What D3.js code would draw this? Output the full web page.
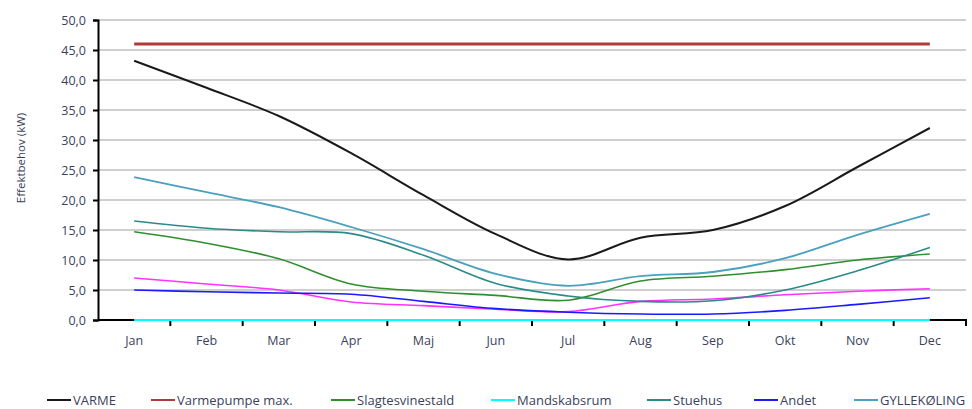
<!DOCTYPE html>
<html>
<head>
<meta charset="utf-8">
<script src="https://cdn.jsdelivr.net/npm/d3@7"></script>
<style>
body{margin:0;background:#fff}
text{font-family:"Open Sans","Liberation Sans",sans-serif;fill:#3b3f5c}
</style>
</head>
<body>
<svg id="chart" width="972" height="409"></svg>
<script>
var months = ["Jan","Feb","Mar","Apr","Maj","Jun","Jul","Aug","Sep","Okt","Nov","Dec"]
var yTicks = [0,5,10,15,20,25,30,35,40,45,50]

var varme = [43.2,38.7,34.0,27.8,20.8,14.3,10.1,13.7,15.0,19.0,25.5,32.0]
var varmepumpe = [46,46,46,46,46,46,46,46,46,46,46,46]
var slagtesvin = [14.7,12.8,10.2,6.0,4.8,4.1,3.3,6.5,7.3,8.4,10.0,11.0]
var mandskab = [0,0,0,0,0,0,0,0,0,0,0,0]
var stuehus = [16.5,15.3,14.7,14.4,10.8,6.1,4.0,3.1,3.2,5.0,8.2,12.1]
var andet = [5.0,4.7,4.5,4.3,3.1,1.9,1.3,1.0,1.0,1.6,2.6,3.7]
var gylle = [23.8,21.3,18.8,15.5,11.8,7.7,5.7,7.3,8.0,10.3,14.2,17.7]
var ukendt = [7.0,6.0,5.0,3.0,2.4,1.8,1.4,3.1,3.5,4.2,4.8,5.2]

var series = [
	["VARME",varme,"#1a1a1a",2,true],
	["Varmepumpe max.",varmepumpe,"#b03a3a",3,true],
	["Slagtesvinestald",slagtesvin,"#2f8f2f",1.6,true],
	["Mandskabsrum",mandskab,"#00ffff",2,true],
	["Stuehus",stuehus,"#2a8a88",1.6,true],
	["Andet",andet,"#1a1aff",1.6,true],
	["GYLLEKØLING",gylle,"#4aa0bd",1.8,true],
	["",ukendt,"#ff33ff",1.6,false]
]

var svg = d3.select("#chart")
var x = d3.scaleBand().domain(months).range([98,966])
var y = d3.scaleLinear().domain([0,50]).range([320,20])

// gridlines
svg.append("g").selectAll("line").data(yTicks.slice(1)).enter().append("line")
	.attr("x1",98).attr("x2",966)
	.attr("y1",function(d){return y(d)}).attr("y2",function(d){return y(d)})
	.attr("stroke","#cfcfcf").attr("stroke-width",2)

// y axis
var yAxis = svg.append("g").attr("transform","translate(98,0)")
	.call(d3.axisLeft(y).tickValues(yTicks).tickSize(5).tickFormat(function(d){return d3.format(".1f")(d).replace(".",",")}))
yAxis.select(".domain").attr("stroke","#000").attr("stroke-width",2)
yAxis.selectAll(".tick line").attr("stroke","#000").attr("stroke-width",2)
yAxis.selectAll("text").attr("font-size",12.5).attr("x",-12).style("fill","#3b3f5c").attr("font-family","'Open Sans',sans-serif")

// x axis
var xAxis = svg.append("g").attr("transform","translate(0,320)")
	.call(d3.axisBottom(x).tickSize(0).tickPadding(16))
xAxis.select(".domain").attr("stroke","#000").attr("stroke-width",2).attr("d","M98,0H966V6")
xAxis.selectAll("text").attr("font-size",12.5).style("fill","#3b3f5c").attr("font-family","'Open Sans',sans-serif")
svg.append("g").selectAll("line").data(months.slice(1)).enter().append("line")
	.attr("x1",function(d){return x(d)}).attr("x2",function(d){return x(d)})
	.attr("y1",320).attr("y2",326).attr("stroke","#000").attr("stroke-width",2)

svg.append("text").attr("transform","translate(25,158) rotate(-90)")
	.attr("text-anchor","middle").attr("font-size",11.5).text("Effektbehov (kW)")

// lines
var line = d3.line()
	.x(function(d,i){return x(months[i])+x.bandwidth()/2})
	.y(function(d){return y(d)})
	.curve(d3.curveCatmullRom.alpha(0.5))

var order = [3,7,5,2,4,6,0,1]
order.forEach(function(k){
	var s = series[k]
	svg.append("path").datum(s[1]).attr("d",line)
		.attr("fill","none").attr("stroke",s[2]).attr("stroke-width",s[3])
})

// legend
var legX = [47,151,331,491,647,754,854]
var leg = svg.append("g")
series.filter(function(s){return s[4]}).forEach(function(s,i){
	leg.append("line").attr("x1",legX[i]).attr("x2",legX[i]+24).attr("y1",400).attr("y2",400)
		.attr("stroke",s[2]).attr("stroke-width",2)
	leg.append("text").attr("x",legX[i]+26).attr("y",404.5).attr("font-size",13).text(s[0])
})
</script>
</body>
</html>
